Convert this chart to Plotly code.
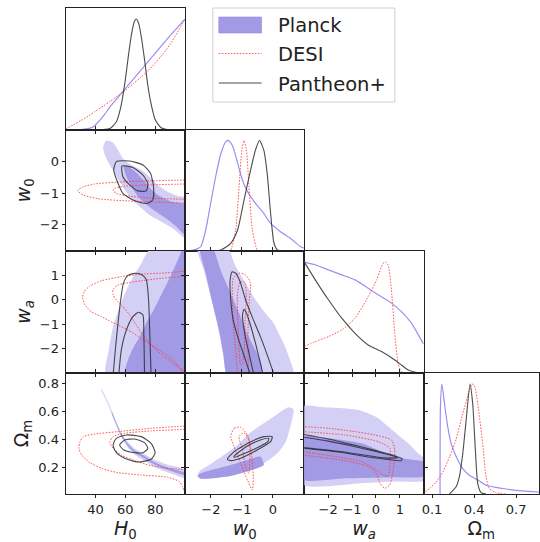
import plotly.graph_objects as go
from plotly.subplots import make_subplots

# ---------------- axis settings ----------------
H0_RANGE = [20, 100]
W0_RANGE = [-2.84, 1.02]
WA_RANGE = [-3.0, 2.0]
OM_RANGE_Y = [0.011, 0.878]
OM_RANGE_X = [0.04, 0.863]
H0_TICKS = [40, 60, 80]
W0_TICKS = [-2, -1, 0]
WA_TICKS = [-2, -1, 0, 1]
OM_TICKS_Y = [0.2, 0.4, 0.6, 0.8]
OM_TICKS_X = [0.1, 0.4, 0.7]
LEGEND_LABELS = ["Planck", "DESI", "Pantheon+"]

# ---------------- 1D marginals ----------------
H0_GRID_P = [30, 34, 38, 42, 46, 50, 55, 60, 65, 70, 75, 80, 85, 90, 95, 100]
H0_PLANCK = [0, 0.005, 0.02, 0.07, 0.135, 0.21, 0.29, 0.37, 0.45, 0.53, 0.61, 0.69, 0.77, 0.85, 0.925, 1.0]
H0_GRID_D = [20, 25, 30, 35, 40, 45, 50, 55, 60, 65, 70, 75, 80, 85, 90, 95, 100]
H0_DESI = [0.005, 0.04, 0.08, 0.12, 0.166, 0.21, 0.257, 0.305, 0.356, 0.41, 0.468, 0.53, 0.6, 0.68, 0.77, 0.88, 1.0]
H0_GRID_S = [45, 50, 54, 57, 60, 62, 64, 66, 67.3, 69, 71, 73, 75, 77, 80, 84, 88]
H0_PANTH = [0, 0.012, 0.07, 0.205, 0.45, 0.66, 0.85, 0.975, 1.0, 0.958, 0.815, 0.62, 0.41, 0.25, 0.09, 0.016, 0]

W0_GRID_P = [-2.75, -2.54, -2.33, -2.17, -2.01, -1.85, -1.68, -1.52, -1.43, -1.30, -1.14, -0.98, -0.82, -0.61, -0.29, -0.07, 0.25, 0.57, 0.89, 1.02]
W0_PLANCK = [0, 0.01, 0.04, 0.19, 0.43, 0.67, 0.88, 0.99, 1.0, 0.95, 0.80, 0.64, 0.54, 0.45, 0.34, 0.25, 0.175, 0.115, 0.04, 0.025]
W0_GRID_D = [-1.45, -1.36, -1.20, -1.09, -1.00, -0.93, -0.85, -0.77, -0.66, -0.50, -0.39]
W0_DESI = [0, 0.01, 0.19, 0.58, 0.914, 1.0, 0.914, 0.58, 0.19, 0.01, 0]
W0_GRID_S = [-2.4, -1.68, -1.36, -1.14, -0.93, -0.72, -0.56, -0.43, -0.29, -0.18, -0.07, 0.04, 0.15, 0.5]
W0_PANTH = [0, 0.01, 0.07, 0.19, 0.46, 0.73, 0.914, 1.0, 0.914, 0.70, 0.34, 0.07, 0.01, 0]

WA_GRID_P = [-3.0, -2.54, -1.99, -1.43, -0.875, -0.32, 0.097, 0.65, 1.07, 1.49, 1.97, 2.0]
WA_PLANCK = [1.0, 0.976, 0.93, 0.885, 0.84, 0.765, 0.705, 0.63, 0.554, 0.449, 0.27, 0.26]
WA_GRID_D = [-3.0, -2.54, -1.99, -1.43, -0.875, -0.32, 0.028, 0.306, 0.40, 0.51, 0.65, 0.79, 0.93, 1.07, 1.35, 2.0]
WA_DESI = [0.238, 0.283, 0.328, 0.389, 0.494, 0.69, 0.84, 0.99, 1.0, 0.975, 0.75, 0.358, 0.087, 0.012, 0, 0]
WA_GRID_S = [-3.0, -2.54, -1.99, -1.43, -0.875, -0.32, 0.236, 0.79, 1.07, 1.35, 1.76, 2.0]
WA_PANTH = [1.0, 0.84, 0.66, 0.494, 0.358, 0.253, 0.193, 0.117, 0.072, 0.027, 0.003, 0]

OM_GRID_P = [0.157, 0.160, 0.170, 0.189, 0.212, 0.236, 0.272, 0.319, 0.366, 0.426, 0.485, 0.603, 0.721, 0.863]
OM_PLANCK = [0, 0.8, 1.0, 0.82, 0.61, 0.46, 0.34, 0.23, 0.17, 0.127, 0.08, 0.05, 0.03, 0.018]
OM_GRID_D = [0.035, 0.082, 0.13, 0.177, 0.224, 0.272, 0.319, 0.366, 0.385, 0.402, 0.426, 0.461, 0.485, 0.508, 0.556, 0.627]
OM_DESI = [0, 0.05, 0.11, 0.2, 0.337, 0.5, 0.73, 0.94, 1.0, 0.985, 0.82, 0.458, 0.157, 0.05, 0.012, 0]
OM_GRID_S = [0.224, 0.272, 0.295, 0.319, 0.343, 0.371, 0.39, 0.409, 0.426, 0.449, 0.485]
OM_PANTH = [0, 0.066, 0.157, 0.367, 0.669, 1.0, 0.82, 0.4, 0.096, 0.012, 0]

# ---------------- 2D contours (x, y) ----------------
# H0 - w0
H0W0_PLANCK_95 = [(47.3, 0.665), (51.8, 0.60), (55.1, 0.37), (58.4, 0.10), (64, -0.11), (70.7, -0.27), (76.2, -0.48),
                  (81.8, -0.74), (88.4, -0.96), (95.1, -1.09), (101, -1.14), (101, -2.45), (91.8, -2.12), (84, -1.91),
                  (76.2, -1.70), (69.6, -1.43), (64, -1.17), (59.6, -0.90), (56.2, -0.64), (52.9, -0.37), (49.6, -0.11),
                  (46.7, 0.16), (45.1, 0.47)]
H0W0_PLANCK_68 = [(59.1, -0.14), (62.9, -0.19), (68.4, -0.40), (72.9, -0.62), (76.2, -0.83), (81.8, -1.06), (90.7, -1.27),
                  (101, -1.39), (101, -2.35), (94, -2.05), (86.2, -1.77), (77.3, -1.48), (70.7, -1.22), (66.2, -0.96),
                  (62.9, -0.69), (60, -0.39)]
H0W0_DESI_95 = [(102, -0.585), (77.3, -0.61), (55.1, -0.65), (39.6, -0.71), (31.8, -0.80), (28, -0.92), (31.8, -1.06),
                (41.8, -1.18), (61.8, -1.25), (84, -1.29), (102, -1.33)]
H0W0_DESI_68 = [(102, -0.71), (77.3, -0.74), (59.6, -0.78), (52.9, -0.85), (51.8, -0.92), (54, -1.01), (61.8, -1.09),
                (77.3, -1.16), (102, -1.20)]
H0W0_PANTH_95 = [(54, 0.0), (62.9, 0.02), (71.8, -0.11), (76.9, -0.37), (78.9, -0.80), (78.4, -1.22), (74, -1.33),
                 (65.1, -1.22), (58.4, -1.01), (54.7, -0.64), (52.2, -0.27), (54, 0.0)]
H0W0_PANTH_68 = [(57.8, -0.14), (65.1, -0.19), (71.8, -0.43), (75.1, -0.69), (74, -0.93), (68.4, -0.93), (62.9, -0.74),
                 (58.4, -0.48), (57.8, -0.14)]

# H0 - wa
H0WA_PLANCK_95 = [(47.0, -3.1), (48.9, -2.06), (51.8, -1.10), (56.2, -0.28), (62.9, 0.675), (70.7, 1.49), (76.9, 2.1),
                  (101, 2.1), (101, -3.1)]
H0WA_PLANCK_68 = [(59.8, -3.1), (61.8, -2.47), (65.1, -1.99), (69.6, -1.51), (74, -0.96), (79.6, -0.35), (85.1, 0.33),
                  (90.7, 1.02), (96.2, 1.77), (98.4, 2.1), (101, 2.1), (101, -3.1)]
H0WA_DESI_95 = [(101.8, 1.18), (88.4, 1.11), (72.9, 1.06), (57.3, 0.95), (44, 0.78), (36.2, 0.565), (32.4, 0.33),
                (31.3, 0.10), (32.9, -0.21), (37.3, -0.49), (44, -0.69), (51.8, -0.94), (61.8, -1.24), (70.7, -1.58),
                (79.6, -1.92), (88.4, -2.30), (95.1, -2.67), (99.1, -3.1)]
H0WA_DESI_68 = [(101.8, 0.975), (84, 0.88), (66.2, 0.74), (55.1, 0.606), (51.8, 0.43), (51.8, 0.20), (54, -0.008),
                (58.4, -0.28), (62.9, -0.62), (67.3, -1.03), (71.8, -1.44), (77.3, -1.85), (86.2, -2.33), (95.1, -2.74),
                (101, -2.95)]
H0WA_PANTH_95 = [(51.8, -3.1), (53.3, -2.06), (55.1, -0.96), (56.9, -0.01), (58.7, 0.675), (61.8, 1.0), (66.2, 1.085),
                 (70.7, 1.04), (74, 0.84), (75.6, -0.01), (76.4, -1.37), (77.3, -3.1)]
H0WA_PANTH_68 = [(55.6, -3.1), (57.3, -2.06), (60.7, -1.24), (65.1, -0.69), (68.9, -0.51), (71.8, -0.62), (72.4, -1.37),
                 (72.9, -3.1)]

# H0 - Om
H0OM_PLANCK_95 = [(44, 0.764), (48.4, 0.672), (52.9, 0.558), (57.3, 0.452), (61.8, 0.383), (66.2, 0.337), (72.9, 0.298),
                  (79.6, 0.257), (88.4, 0.221), (101, 0.183), (101, 0.124), (88.4, 0.166), (79.6, 0.204), (72.9, 0.249),
                  (66.2, 0.294), (61.8, 0.343), (57.3, 0.418), (52.9, 0.528), (48.4, 0.652), (44, 0.752)]
H0OM_PLANCK_68 = [(51.0, 0.598), (52.9, 0.549), (57.3, 0.441), (61.8, 0.369), (66.2, 0.322), (72.9, 0.282), (79.6, 0.239),
                  (88.4, 0.201), (101, 0.160), (101, 0.144), (88.4, 0.185), (79.6, 0.223), (72.9, 0.266), (66.2, 0.308),
                  (61.8, 0.355), (57.3, 0.427), (52.9, 0.535), (51.0, 0.586)]
H0OM_DESI_95 = [(102, 0.499), (77.3, 0.482), (55.1, 0.458), (39.6, 0.441), (31.8, 0.422), (29.6, 0.386), (28.9, 0.338),
                (30.7, 0.291), (36.2, 0.236), (44, 0.195), (55.1, 0.164), (70.7, 0.147), (88.4, 0.131), (96.2, 0.1),
                (98.4, 0.064), (99.6, 0.028), (100, 0.0)]
H0OM_DESI_68 = [(102, 0.475), (77.3, 0.463), (59.6, 0.446), (51.8, 0.422), (49.6, 0.386), (51.8, 0.338), (57.3, 0.291),
                (66.2, 0.25), (77.3, 0.214), (88.4, 0.195), (102, 0.183)]
H0OM_PANTH_95 = [(51.8, 0.362), (54, 0.41), (60.7, 0.434), (70.7, 0.422), (77.3, 0.374), (80, 0.307), (77.3, 0.26),
                 (68.4, 0.24), (59.6, 0.267), (54, 0.307), (51.8, 0.362)]
H0OM_PANTH_68 = [(56.2, 0.362), (59.6, 0.398), (66.2, 0.405), (72.9, 0.379), (75.1, 0.338), (71.8, 0.307), (64, 0.31),
                 (58.4, 0.331), (56.2, 0.362)]

# w0 - wa
W0WA_PLANCK_95 = [(-2.43, 2.11), (-1.47, 2.11), (-1.20, 1.36), (-0.88, 0.68), (-0.56, 0.0), (-0.24, -0.55), (0.03, -0.96),
                  (0.19, -1.37), (0.40, -1.92), (0.56, -2.47), (0.67, -3.1), (-1.47, -3.1), (-1.58, -2.47),
                  (-1.69, -1.65), (-1.85, -0.69), (-2.03, 0.26), (-2.23, 1.22)]
W0WA_PLANCK_68 = [(-2.35, 2.11), (-1.95, 2.11), (-1.69, 1.22), (-1.36, 0.26), (-1.04, -0.69), (-0.78, -1.51),
                  (-0.56, -2.06), (-0.40, -2.53), (-0.35, -3.1), (-1.47, -3.1), (-1.60, -2.19), (-1.74, -1.24),
                  (-1.95, -0.14), (-2.17, 1.09)]
W0WA_DESI_95 = [(-1.13, -3.1), (-1.20, -2.06), (-1.28, -0.96), (-1.31, 0.13), (-1.28, 0.88), (-1.09, 1.09),
                (-0.88, 1.02), (-0.72, 0.70), (-0.76, 0.0), (-0.80, -1.2), (-0.80, -2.2), (-0.78, -3.1)]
W0WA_DESI_68 = [(-1.05, -2.6), (-1.12, -1.2), (-1.14, 0.3), (-1.05, 0.75), (-0.90, 0.70), (-0.86, 0.2), (-0.90, -1.0),
                (-0.93, -2.2), (-1.0, -2.7), (-1.05, -2.6)]
W0WA_PANTH_95 = [(-0.72, -3.1), (-0.88, -2.47), (-1.10, -1.65), (-1.28, -0.83), (-1.36, 0.0), (-1.38, 0.81),
                 (-1.31, 1.15), (-1.20, 1.09), (-1.06, 0.75), (-0.88, 0.0), (-0.67, -0.69), (-0.40, -1.51),
                 (-0.16, -2.33), (0.05, -3.1)]
W0WA_PANTH_68 = [(-0.61, -3.1), (-0.77, -2.19), (-0.91, -1.37), (-0.98, -0.62), (-0.93, -0.39), (-0.87, -0.49),
                 (-0.74, -0.96), (-0.56, -1.78), (-0.40, -2.60), (-0.31, -3.1)]

# w0 - Om
W0OM_PLANCK_95 = [(-2.43, 0.14), (-2.33, 0.121), (-1.58, 0.135), (-0.82, 0.178), (-0.29, 0.231), (0.15, 0.303),
                  (0.42, 0.386), (0.57, 0.494), (0.67, 0.618), (0.51, 0.632), (0.25, 0.60), (0.03, 0.565),
                  (-0.29, 0.518), (-0.61, 0.47), (-0.82, 0.434), (-1.14, 0.362), (-1.58, 0.29), (-2.01, 0.226),
                  (-2.38, 0.171)]
W0OM_PLANCK_68 = [(-2.43, 0.14), (-2.33, 0.121), (-1.36, 0.14), (-0.61, 0.188), (-0.29, 0.219), (-0.40, 0.279),
                  (-0.82, 0.255), (-1.36, 0.219), (-1.90, 0.188), (-2.33, 0.159)]
W0OM_DESI_95 = [(-1.36, 0.422), (-1.25, 0.482), (-1.04, 0.489), (-0.82, 0.434), (-0.69, 0.303), (-0.63, 0.135),
                (-0.66, 0.04), (-0.82, 0.111), (-1.04, 0.231), (-1.25, 0.35), (-1.36, 0.422)]
W0OM_DESI_68 = [(-1.09, 0.422), (-0.93, 0.45), (-0.77, 0.398), (-0.74, 0.255), (-0.77, 0.159), (-0.88, 0.207),
                (-0.98, 0.327), (-1.09, 0.422)]
W0OM_PANTH_95 = [(-1.47, 0.26), (-1.25, 0.315), (-0.71, 0.386), (-0.29, 0.422), (-0.02, 0.422), (-0.07, 0.386),
                 (-0.50, 0.327), (-1.04, 0.267), (-1.36, 0.25), (-1.47, 0.26)]
W0OM_PANTH_68 = [(-1.25, 0.283), (-0.82, 0.355), (-0.40, 0.398), (-0.13, 0.41), (-0.16, 0.386), (-0.61, 0.331),
                 (-1.04, 0.29), (-1.25, 0.274), (-1.25, 0.283)]

# wa - Om
WAOM_PLANCK_95 = [(-3.1, 0.637), (-2.26, 0.632), (-1.43, 0.625), (-0.735, 0.613), (-0.32, 0.589), (0.097, 0.553),
                  (0.51, 0.494), (0.93, 0.434), (1.35, 0.374), (1.76, 0.303), (2.1, 0.255), (2.1, 0.111), (0.79, 0.1),
                  (-0.6, 0.088), (-3.1, 0.083)]
WAOM_PLANCK_68 = [(-3.1, 0.422), (-1.99, 0.41), (-0.6, 0.374), (0.236, 0.315), (1.07, 0.267), (2.1, 0.236),
                  (2.1, 0.14), (0.79, 0.131), (-1.29, 0.123), (-3.1, 0.116)]
WAOM_DESI_95 = [(-3.1, 0.494), (-1.99, 0.482), (-0.875, 0.458), (-0.042, 0.434), (0.653, 0.398), (0.79, 0.327),
                (0.722, 0.183), (0.583, 0.076), (0.375, 0.052), (0.167, 0.088), (0.028, 0.159), (-0.32, 0.207),
                (-1.29, 0.25), (-3.1, 0.29)]
WAOM_DESI_68 = [(-3.1, 0.458), (-1.29, 0.434), (0.097, 0.386), (0.583, 0.338), (0.583, 0.231), (0.514, 0.14),
                (0.306, 0.147), (0.028, 0.183), (-0.597, 0.243), (-3.1, 0.315)]
WAOM_PANTH_95 = [(-3.1, 0.44), (-2.0, 0.405), (-1.0, 0.365), (0.0, 0.322), (0.7, 0.29), (1.1, 0.262), (1.05, 0.25),
                 (0.5, 0.258), (-0.5, 0.282), (-1.5, 0.31), (-3.1, 0.34)]
WAOM_PANTH_68 = [(-3.1, 0.42), (-2.0, 0.39), (-1.0, 0.355), (0.0, 0.315), (0.8, 0.28), (0.9, 0.27), (0.3, 0.27),
                 (-0.5, 0.29), (-1.5, 0.315), (-3.1, 0.345)]

# ---------------- styles ----------------
PLANCK_DARK = "rgb(163,154,229)"
PLANCK_LIGHT = "rgb(211,207,245)"
PLANCK_LINE = "rgba(120,105,235,0.75)"
DESI_COLOR = "rgba(255,60,60,0.85)"
DESI_DASH = "1.6px,1.4px"
PANTH_COLOR = "rgba(45,45,45,0.85)"
FONT = "DejaVu Sans"

W, H = 540, 542
COL_L = [64, 184, 304, 424]
COL_R = [184, 304, 424, 540]
ROW_T = [8, 129.5, 251, 373]
ROW_B = [129.5, 251, 373, 494]

specs = [[{} if c <= r else None for c in range(4)] for r in range(4)]
fig = make_subplots(rows=4, cols=4, specs=specs, horizontal_spacing=0, vertical_spacing=0)


def xy(pts):
    return [p[0] for p in pts], [p[1] for p in pts]


def fill(r, c, pts, color):
    x, y = xy(pts)
    fig.add_trace(go.Scatter(x=x + [x[0]], y=y + [y[0]], mode="lines", fill="toself", fillcolor=color,
                             line=dict(width=0, color=color, shape="spline", smoothing=0.6),
                             showlegend=False, hoverinfo="skip"), row=r, col=c)


def line(r, c, x, y, color, dash="solid", width=1.1):
    fig.add_trace(go.Scatter(x=x, y=y, mode="lines",
                             line=dict(width=width, color=color, dash=dash, shape="spline", smoothing=0.6),
                             showlegend=False, hoverinfo="skip"), row=r, col=c)


def desi(r, c, pts):
    x, y = xy(pts)
    line(r, c, x, y, DESI_COLOR, dash=DESI_DASH, width=1.0)


def panth(r, c, pts):
    x, y = xy(pts)
    line(r, c, x, y, PANTH_COLOR, width=1.1)


# 1D panels
line(1, 1, H0_GRID_P, H0_PLANCK, PLANCK_LINE, width=1.2)
line(1, 1, H0_GRID_D, H0_DESI, DESI_COLOR, dash=DESI_DASH, width=1.0)
line(1, 1, H0_GRID_S, H0_PANTH, PANTH_COLOR)
line(2, 2, W0_GRID_P, W0_PLANCK, PLANCK_LINE, width=1.2)
line(2, 2, W0_GRID_D, W0_DESI, DESI_COLOR, dash=DESI_DASH, width=1.0)
line(2, 2, W0_GRID_S, W0_PANTH, PANTH_COLOR)
line(3, 3, WA_GRID_P, WA_PLANCK, PLANCK_LINE, width=1.2)
line(3, 3, WA_GRID_D, WA_DESI, DESI_COLOR, dash=DESI_DASH, width=1.0)
line(3, 3, WA_GRID_S, WA_PANTH, PANTH_COLOR)
line(4, 4, OM_GRID_P, OM_PLANCK, PLANCK_LINE, width=1.2)
line(4, 4, OM_GRID_D, OM_DESI, DESI_COLOR, dash=DESI_DASH, width=1.0)
line(4, 4, OM_GRID_S, OM_PANTH, PANTH_COLOR)

# 2D panels
panels = [
    (2, 1, H0W0_PLANCK_95, H0W0_PLANCK_68, H0W0_DESI_95, H0W0_DESI_68, H0W0_PANTH_95, H0W0_PANTH_68),
    (3, 1, H0WA_PLANCK_95, H0WA_PLANCK_68, H0WA_DESI_95, H0WA_DESI_68, H0WA_PANTH_95, H0WA_PANTH_68),
    (4, 1, H0OM_PLANCK_95, H0OM_PLANCK_68, H0OM_DESI_95, H0OM_DESI_68, H0OM_PANTH_95, H0OM_PANTH_68),
    (3, 2, W0WA_PLANCK_95, W0WA_PLANCK_68, W0WA_DESI_95, W0WA_DESI_68, W0WA_PANTH_95, W0WA_PANTH_68),
    (4, 2, W0OM_PLANCK_95, W0OM_PLANCK_68, W0OM_DESI_95, W0OM_DESI_68, W0OM_PANTH_95, W0OM_PANTH_68),
    (4, 3, WAOM_PLANCK_95, WAOM_PLANCK_68, WAOM_DESI_95, WAOM_DESI_68, WAOM_PANTH_95, WAOM_PANTH_68),
]
for r, c, p95, p68, d95, d68, s95, s68 in panels:
    fill(r, c, p95, PLANCK_LIGHT)
    fill(r, c, p68, PLANCK_DARK)
    desi(r, c, d95)
    desi(r, c, d68)
    panth(r, c, s95)
    panth(r, c, s68)

ranges_x = [H0_RANGE, W0_RANGE, WA_RANGE, OM_RANGE_X]
ranges_y = [None, W0_RANGE, WA_RANGE, OM_RANGE_Y]
ticks_x = [H0_TICKS, W0_TICKS, WA_TICKS, OM_TICKS_X]
ticks_y = [None, W0_TICKS, WA_TICKS, OM_TICKS_Y]
titles_x = ["<i>H</i><sub>0</sub>", "<i>w</i><sub>0</sub>", "<i>w<sub>a</sub></i>", "Ω<sub>m</sub>"]
titles_y = [None, "<i>w</i><sub>0</sub>", "<i>w<sub>a</sub></i>", "Ω<sub>m</sub>"]

axis_common = dict(showline=True, linecolor="#222", linewidth=1, showgrid=False, zeroline=False,
                   ticks="outside", ticklen=3, tickwidth=1, tickcolor="#222",
                   tickfont=dict(family=FONT, size=13, color="#222"))

for r in range(1, 5):
    for c in range(1, r + 1):
        xd = [COL_L[c - 1] / W, COL_R[c - 1] / W]
        yd = [1 - ROW_B[r - 1] / H, 1 - ROW_T[r - 1] / H]
        xa = dict(axis_common, domain=xd, range=ranges_x[c - 1], tickvals=ticks_x[c - 1],
                  showticklabels=(r == 4), mirror=("allticks" if r != c else True))
        if r == 4:
            xa["title"] = dict(text=titles_x[c - 1], font=dict(family=FONT, size=19, color="#222"), standoff=6)
        fig.update_xaxes(xa, row=r, col=c)
        if r == c:
            ya = dict(showline=True, linecolor="#222", linewidth=1, mirror=True, showgrid=False, zeroline=False,
                      ticks="", showticklabels=False, domain=yd, range=[0, 1.1])
        else:
            ya = dict(axis_common, domain=yd, range=ranges_y[r - 1], tickvals=ticks_y[r - 1],
                      showticklabels=(c == 1), mirror="allticks")
            if c == 1:
                ya["title"] = dict(text=titles_y[r - 1], font=dict(family=FONT, size=19, color="#222"), standoff=4)
        fig.update_yaxes(ya, row=r, col=c)

# ---------------- legend (drawn in paper space) ----------------
def px(x):
    return x / W


def py(y):
    return 1 - y / H


shapes = [
    dict(type="rect", xref="paper", yref="paper", x0=px(212), x1=px(395), y0=py(102), y1=py(8),
         line=dict(color="#d0d0d0", width=1), fillcolor="rgba(255,255,255,0.85)", layer="above"),
    dict(type="rect", xref="paper", yref="paper", x0=px(218), x1=px(261), y0=py(33), y1=py(17),
         line=dict(color="rgb(150,140,225)", width=0.6), fillcolor=PLANCK_DARK, layer="above"),
    dict(type="line", xref="paper", yref="paper", x0=px(218), x1=px(261), y0=py(53.5), y1=py(53.5),
         line=dict(color=DESI_COLOR, width=1, dash=DESI_DASH), layer="above"),
    dict(type="line", xref="paper", yref="paper", x0=px(218), x1=px(261), y0=py(83), y1=py(83),
         line=dict(color=PANTH_COLOR, width=1.1), layer="above"),
]
annotations = []
for label, yc in zip(LEGEND_LABELS, [25.5, 54.5, 84]):
    annotations.append(dict(text=label, xref="paper", yref="paper", x=px(276), y=py(yc), xanchor="left",
                            yanchor="middle", showarrow=False, font=dict(family=FONT, size=19.5, color="#222")))

fig.update_layout(
    width=W, height=H, margin=dict(l=0, r=0, t=0, b=0),
    paper_bgcolor="white", plot_bgcolor="white",
    font=dict(family=FONT, color="#222"),
    showlegend=False, shapes=shapes, annotations=annotations,
)

fig.write_html("out.html")
